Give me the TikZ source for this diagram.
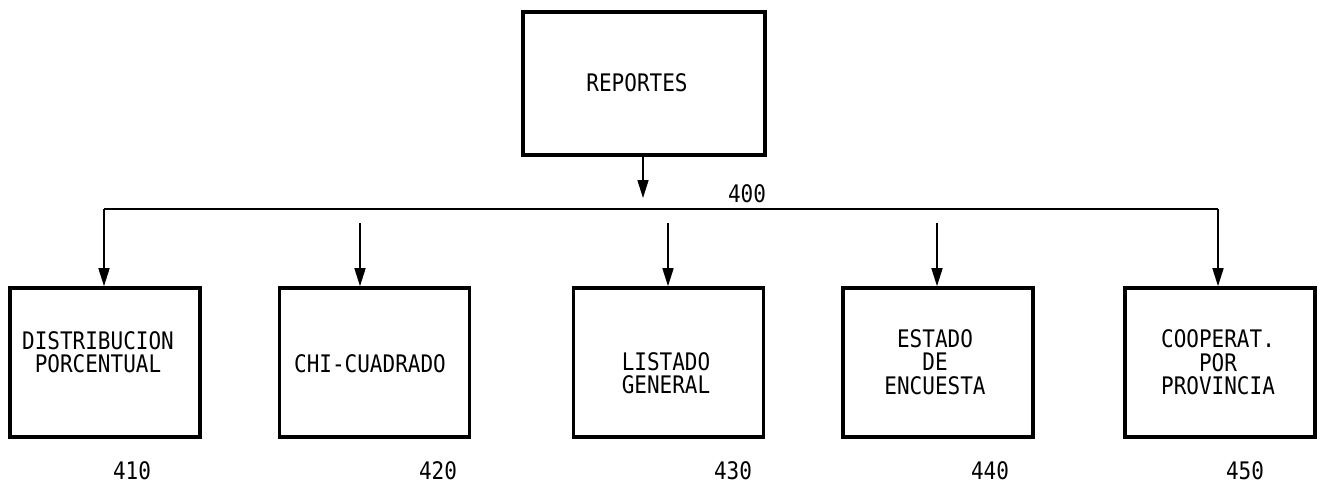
\documentclass[tikz,border=0pt]{standalone}
\usepackage{fontspec}
\usepackage{graphicx}
\newfontfamily\plotfont{DejaVu Sans Mono}
\usetikzlibrary{arrows.meta}
\newcommand\plottxt[1]{\scalebox{1}[1.15]{\fontsize{21}{17}\selectfont\begin{tabular}{@{}c@{}}#1\end{tabular}}}
\begin{document}
\begin{tikzpicture}[x=1pt,y=-1pt,
  box/.style={draw,line width=3.6pt,inner sep=0pt},
  lbl/.style={font=\plotfont,align=center,inner sep=0pt},
  conn/.style={line width=1.6pt},
  arr/.style={conn,-{Triangle[length=18pt,width=11pt]}}]
\useasboundingbox (0,0) rectangle (1321,485);
% top box
\node[box,minimum width=242pt,minimum height=143pt] (top) at (644,83.5) {};
\node[lbl] (toptxt) at (637,85) {\plottxt{REPORTES}};
% bottom boxes
\node[box,minimum width=190pt,minimum height=149pt] (b1) at (105,362.5) {};
\node[box,minimum width=190pt,minimum height=149pt] (b2) at (374.5,362.5) {};
\node[box,minimum width=190pt,minimum height=149pt] (b3) at (668.5,362.5) {};
\node[box,minimum width=190pt,minimum height=149pt] (b4) at (938,362.5) {};
\node[box,minimum width=190pt,minimum height=149pt] (b5) at (1220,362.5) {};
\node[lbl] (t1) at (98,355) {\plottxt{DISTRIBUCION\\PORCENTUAL}};
\node[lbl] (t2) at (370,366) {\plottxt{CHI-CUADRADO}};
\node[lbl] (t3) at (666,376) {\plottxt{LISTADO\\GENERAL}};
\node[lbl] (t4) at (935,365) {\plottxt{ESTADO\\DE\\ENCUESTA}};
\node[lbl] (t5) at (1218,365) {\plottxt{COOPERAT.\\POR\\PROVINCIA}};
% numbers
\node[lbl] (n0) at (747,196) {\plottxt{400}};
\node[lbl] (n1) at (132,473) {\plottxt{410}};
\node[lbl] (n2) at (438,473) {\plottxt{420}};
\node[lbl] (n3) at (733,473) {\plottxt{430}};
\node[lbl] (n4) at (990,473) {\plottxt{440}};
\node[lbl] (n5) at (1245,473) {\plottxt{450}};
% connectors
\coordinate (topend) at (643,198);
\coordinate (busL) at (104,209);
\coordinate (busR) at (1218,209);
\coordinate (s2) at (360,223);
\coordinate (s3) at (668,223);
\coordinate (s4) at (937,223);
\draw[arr] (top.south -| topend) -- (topend);
\draw[conn] (busL) -- (busR);
\draw[arr] (busL) -- (b1.north -| busL);
\draw[arr] (busR) -- (b5.north -| busR);
\draw[arr] (s2) -- (b2.north -| s2);
\draw[arr] (s3) -- (b3.north -| s3);
\draw[arr] (s4) -- (b4.north -| s4);
\end{tikzpicture}
\end{document}
